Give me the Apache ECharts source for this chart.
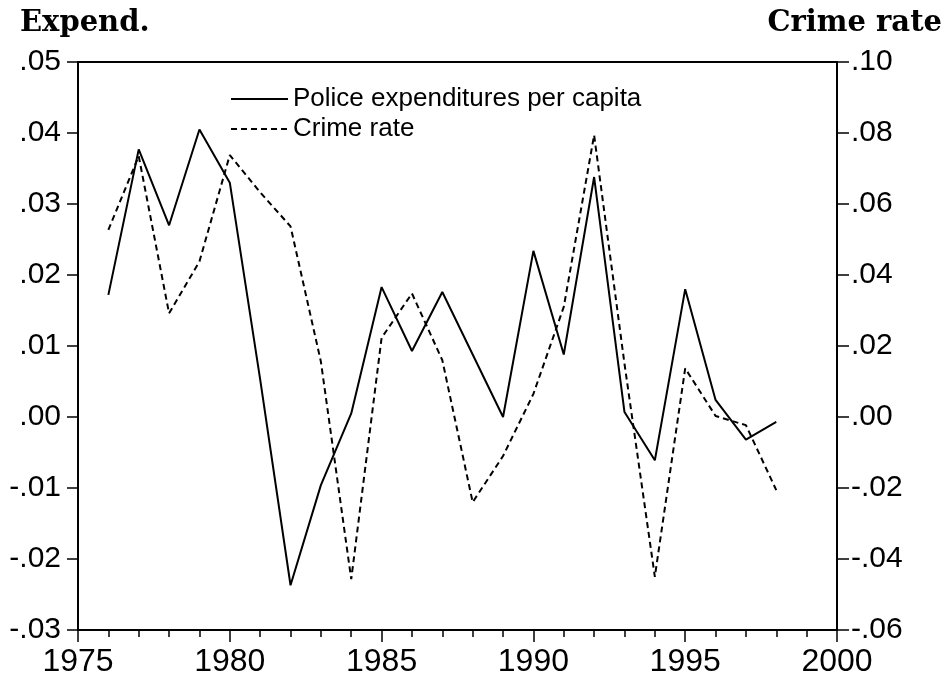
<!DOCTYPE html>
<html>
<head>
<meta charset="utf-8">
<script src="https://cdn.jsdelivr.net/npm/echarts@6/dist/echarts.min.js"></script>
<style>
html,body{margin:0;padding:0;background:#fff;}
#c{width:949px;height:678px;}
</style>
</head>
<body>
<div id="c"></div>
<script>
const years = [1976,1977,1978,1979,1980,1981,1982,1983,1984,1985,1986,1987,1988,1989,1990,1991,1992,1993,1994,1995,1996,1997,1998];
const expend = [0.0172,0.0377,0.0270,0.0405,0.0330,0.0053,-0.0237,-0.0096,0.0005,0.0183,0.0093,0.0176,0.0088,0.0000,0.0234,0.0088,0.0338,0.0007,-0.0061,0.0180,0.0024,-0.0032,-0.0007];
const crime = [0.0527,0.0735,0.0292,0.0438,0.0738,0.0633,0.0537,0.0156,-0.0457,0.0223,0.0348,0.0160,-0.0240,-0.0110,0.0065,0.0310,0.0794,0.0150,-0.0450,0.0137,0.0003,-0.0023,-0.0206];
const seriesNames = ['Police expenditures per capita','Crime rate'];
const axisTitles = ['Expend.','Crime rate'];

function fmt(v){
  if (Math.abs(v) < 1e-9) return '.00';
  return v.toFixed(2).replace('0.', '.');
}
const sans = 'Liberation Sans, Arial, sans-serif';
const chart = echarts.init(document.getElementById('c'), null, {renderer:'canvas'});
chart.setOption({
  animation:false,
  backgroundColor:'#fff',
  title:[
    {text:axisTitles[0], left:15, top:4, textStyle:{fontFamily:'DejaVu Serif, serif', fontWeight:'bold', fontSize:29, color:'#000'}},
    {text:axisTitles[1], right:2, top:4, textStyle:{fontFamily:'DejaVu Serif, serif', fontWeight:'bold', fontSize:29, color:'#000'}}
  ],
  grid:{left:78, right:112, top:62, bottom:48, show:true, borderColor:'#000', borderWidth:2, backgroundColor:'transparent'},
  legend:{
    orient:'vertical', left:225, top:81, itemWidth:57, itemHeight:14, itemGap:4,
    itemStyle:{opacity:0},
    textStyle:{color:'#000', fontFamily:sans, fontSize:26},
    data:seriesNames
  },
  xAxis:{
    type:'value', min:1975, max:2000, interval:5,
    axisLine:{show:true, onZero:false, lineStyle:{color:'#000', width:2}},
    axisTick:{show:true, inside:false, length:12, lineStyle:{color:'#000', width:1.5}},
    minorTick:{show:true, splitNumber:5, length:7, lineStyle:{color:'#000', width:1.5}},
    splitLine:{show:false},
    axisLabel:{margin:16, formatter:v=>String(v), color:'#000', fontFamily:sans, fontSize:32}
  },
  yAxis:[
    {type:'value', min:-0.03, max:0.05, interval:0.01, position:'left',
     axisLine:{show:true, lineStyle:{color:'#000', width:2}},
     axisTick:{show:true, inside:false, length:11, lineStyle:{color:'#000', width:1.5}},
     splitLine:{show:false},
     axisLabel:{margin:17, formatter:fmt, color:'#000', fontFamily:sans, fontSize:30}},
    {type:'value', min:-0.06, max:0.10, interval:0.02, position:'right',
     axisLine:{show:true, lineStyle:{color:'#000', width:2}},
     axisTick:{show:true, inside:false, length:12, lineStyle:{color:'#000', width:1.5}},
     splitLine:{show:false},
     axisLabel:{margin:14, formatter:fmt, color:'#000', fontFamily:sans, fontSize:30}}
  ],
  series:[
    {name:seriesNames[0], type:'line', yAxisIndex:0, symbol:'none',
     lineStyle:{color:'#000', width:2, type:'solid'}, itemStyle:{color:'#000'},
     data:years.map((y,i)=>[y, expend[i]])},
    {name:seriesNames[1], type:'line', yAxisIndex:1, symbol:'none',
     lineStyle:{color:'#000', width:2, type:[6,4]}, itemStyle:{color:'#000'},
     data:years.map((y,i)=>[y, crime[i]])}
  ]
});
</script>
</body>
</html>
